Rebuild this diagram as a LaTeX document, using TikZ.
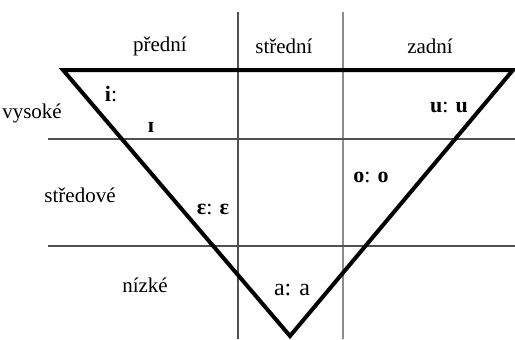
\documentclass[tikz,border=0pt]{standalone}
\usepackage{fontspec}
\setmainfont{Liberation Serif}
\usepackage{tikz}
\usepackage{xcolor}
\usetikzlibrary{positioning}
\definecolor{ink}{HTML}{000000}
\definecolor{gridA}{HTML}{505050}
\definecolor{gridB}{HTML}{8C8C8C}

\begin{document}
\begin{tikzpicture}[x=0.5pt,y=-0.5pt,font=\fontsize{10.5}{12}\selectfont,
  grd/.style={line width=0.75pt},
  tri/.style={draw=ink,line width=2pt,line join=miter},
  lab/.style={inner sep=0pt},
  vow/.style={inner sep=0pt,font=\fontsize{11}{13}\selectfont}]
  \useasboundingbox (0,0) rectangle (515,339);

  % grid of the vowel chart
  \draw[grd,draw=gridA] (238,12) -- (238,339);
  \draw[grd,draw=gridB] (343,12) -- (343,339);
  \foreach \yy in {139,246}{
    \draw[grd,draw=gridA] (48,\yy) -- (515,\yy);
  }

  % the vowel triangle
  \coordinate (TL) at (63,70);
  \coordinate (TR) at (513,70);
  \coordinate (B) at (290,336);
  \draw[tri] (TL) -- (TR) -- (B) -- cycle;

  \node[lab] (front) at (160,46) {přední};
  \node[lab] (central) at (284,46) {střední};
  \node[lab] (back) at (430,46) {zadní};
  \node[lab] (high) at (32,113) {vysoké};
  \node[lab] (mid) at (80,195) {středové};
  \node[lab] (low) at (145,285) {nízké};

  \node[vow] (ii) at (111,94) {\textbf{i}:};
  \node[vow] (ih) at (151,127) {\textbf{ɪ}};
  \node[vow] (uu) at (449,107) {\textbf{u}: \textbf{u}};
  \node[vow] (oo) at (371,177) {\textbf{o}: \textbf{o}};
  \node[vow] (ee) at (213,209) {\textbf{ɛ}: \textbf{ɛ}};
  \node[vow,font=\fontsize{12}{14}\selectfont] (aa) at (292,290) {a: a};
\end{tikzpicture}
\end{document}
